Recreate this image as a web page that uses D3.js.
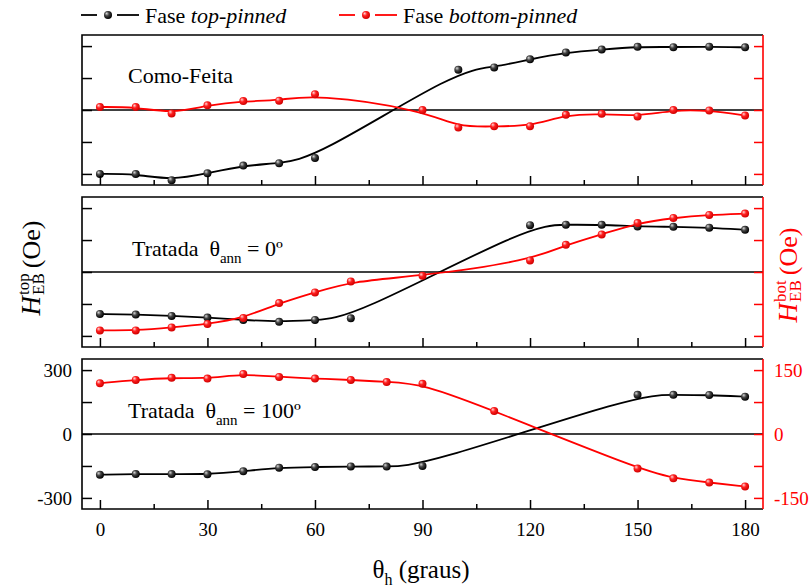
<!DOCTYPE html>
<html><head><meta charset="utf-8">
<script src="https://cdn.jsdelivr.net/npm/d3@7"></script>
<style>
html,body{margin:0;padding:0;background:#fff;}
svg{display:block;}
svg text{white-space:pre;font-family:"Liberation Serif","Times New Roman",serif !important;}
</style></head>
<body><svg id="c" width="811" height="587"></svg>
<script>
// ---- data ----
const angles = [0,10,20,30,40,50,60,70,80,90,100,110,120,130,140,150,160,170,180];
const comoTop  = [-300,-300,-330,-297,-261,-250,-225,null,null,null,189,200,238,270,284,297,295,297,294];
const comoBot  = [7,7,-8,11,21,22,37,null,null,0,-41,-38,-38,-11,-9,-15,0,-1,-13];
const t0Top    = [-197,-200,-206,-214,-225,-234,-225,-217,null,null,null,null,220,222,222,214,212,208,198];
const t0Bot    = [-137,-137,-130,-122,-108,-73,-48,-22,null,-9,null,null,27,64,88,115,127,134,137];
const t100Top  = [-191,-188,-188,-189,-175,-158,-155,-152,-153,-150,null,null,null,null,null,184,184,183,175];
const t100Bot  = [119,127,132,130,141,134,130,127,122,118,null,54,null,null,null,-81,-104,-114,-123];
const panelNames = ["Como-Feita","Tratada  θ|ann| = 0º","Tratada  θ|ann| = 100º"];
const xMajor = [0,30,60,90,120,150,180];
const xMinor = [15,45,75,105,135,165];
const leftTicks = [-300,-150,0,150,300];
const leftLabels = [-300,0,300];
const rightTicks = [-150,-75,0,75,150];
const rightLabels = [-150,0,150];
const legendNames = [["Fase ","top-pinned"],["Fase ","bottom-pinned"]];

const RED = "#ff0000";
const svg = d3.select("#c");
const L = 82, R = 763, H = 150;
const tops = [35,197,359];
const x = d3.scaleLinear().domain([-5,185]).range([L,R]);

const defs = svg.append("defs");
function grad(id, c0, c1, c2){
  const g = defs.append("radialGradient").attr("id",id).attr("cx","40%").attr("cy","40%").attr("r","60%").attr("fx","32%").attr("fy","30%");
  g.append("stop").attr("offset","0%").attr("stop-color",c0);
  g.append("stop").attr("offset","45%").attr("stop-color",c1);
  g.append("stop").attr("offset","100%").attr("stop-color",c2);
}
grad("gk","#d8d8d8","#444","#000");
grad("gr","#ffd8d8","#ff2020","#d00000");

const panels = [
  {top:comoTop, bot:comoBot},
  {top:t0Top, bot:t0Bot},
  {top:t100Top, bot:t100Bot}
];
const fmt = d => String(d);

panels.forEach((p,i)=>{
  const T = tops[i];
  const yL = d3.scaleLinear().domain([-352,352]).range([T+H,T]);
  const yR = d3.scaleLinear().domain([-176,176]).range([T+H,T]);
  const g = svg.append("g");
  g.append("line").attr("x1",L).attr("x2",R).attr("y1",yL(0)).attr("y2",yL(0))
   .attr("stroke","#000").attr("stroke-width",1.4);
  const series = [
    {vals:p.top, y:yL, col:"#000", grad:"gk"},
    {vals:p.bot, y:yR, col:RED, grad:"gr"}
  ];
  series.forEach(s=>{
    const pts = angles.map((a,j)=>[a,s.vals[j]]).filter(d=>d[1]!==null);
    const line = d3.line().x(d=>x(d[0])).y(d=>s.y(d[1])).curve(d3.curveBasis);
    g.append("path").attr("d",line(pts)).attr("fill","none").attr("stroke",s.col).attr("stroke-width",1.8);
    s.pts = pts;
  });
  series.forEach(s=>{
    g.selectAll(null).data(s.pts).enter().append("circle")
     .attr("cx",d=>x(d[0])).attr("cy",d=>s.y(d[1])).attr("r",4)
     .attr("fill","url(#"+s.grad+")");
  });
  const ax = g.append("g").attr("transform",`translate(${L},0)`)
    .call(d3.axisLeft(yL).tickValues(leftTicks).tickSize(-10).tickPadding(10)
      .tickFormat(d=> (i===2 && leftLabels.includes(d)) ? fmt(d) : ""));
  ax.select(".domain").remove();
  ax.selectAll("line").attr("stroke","#000").attr("stroke-width",1.5);
  ax.selectAll("text").attr("font-size",19).attr("fill","#000").attr("dy","0.35em");
  const ar = g.append("g").attr("transform",`translate(${R},0)`)
    .call(d3.axisRight(yR).tickValues(rightTicks).tickSize(-9).tickPadding(11)
      .tickFormat(d=> (i===2 && rightLabels.includes(d)) ? fmt(d) : ""));
  ar.select(".domain").remove();
  ar.selectAll("line").attr("stroke",RED).attr("stroke-width",1.5);
  ar.selectAll("text").attr("font-size",19).attr("fill",RED).attr("dy","0.35em");
  const bx = g.append("g").attr("transform",`translate(0,${T+H})`)
    .call(d3.axisBottom(x).tickValues(xMajor).tickSize(-9).tickPadding(14)
      .tickFormat(d=> i===2 ? String(d) : ""));
  bx.select(".domain").remove();
  bx.selectAll("line").attr("stroke","#000").attr("stroke-width",1.5);
  bx.selectAll("text").attr("font-size",19).attr("fill","#000");
  const bm = g.append("g").attr("transform",`translate(0,${T+H})`)
    .call(d3.axisBottom(x).tickValues(xMinor).tickSize(-5).tickFormat(""));
  bm.select(".domain").remove();
  bm.selectAll("line").attr("stroke","#000").attr("stroke-width",1.5);
  g.append("path").attr("d",`M${R},${T}H${L}V${T+H}H${R}`).attr("fill","none").attr("stroke","#000").attr("stroke-width",1.6);
  g.append("line").attr("x1",R).attr("x2",R).attr("y1",T).attr("y2",T+H).attr("stroke",RED).attr("stroke-width",1.6);
  const parts = panelNames[i].split("|");
  const ann = [[128,83],[132,256],[128,418]][i];
  const t = g.append("text").attr("x",ann[0]).attr("y",ann[1]).attr("font-size",22).attr("fill","#000");
  t.append("tspan").text(parts[0]);
  if(parts.length>1){
    t.append("tspan").attr("font-size",15).attr("dy",7).text(parts[1]);
    t.append("tspan").attr("dy",-7).text(parts[2]);
  }
});

[[81,"#000","gk"],[339,RED,"gr"]].forEach((l,k)=>{
  const g = svg.append("g");
  const x0 = l[0], yy = 15;
  g.append("line").attr("x1",x0).attr("x2",x0+16).attr("y1",yy).attr("y2",yy).attr("stroke",l[1]).attr("stroke-width",1.8);
  g.append("line").attr("x1",x0+36).attr("x2",x0+58).attr("y1",yy).attr("y2",yy).attr("stroke",l[1]).attr("stroke-width",1.8);
  g.append("circle").attr("cx",x0+27).attr("cy",yy).attr("r",4).attr("fill",`url(#${l[2]})`);
  const t = g.append("text").attr("x",x0+64).attr("y",23).attr("font-size",22).attr("fill","#000");
  t.append("tspan").text(legendNames[k][0]);
  t.append("tspan").attr("font-style","italic").text(legendNames[k][1]);
});

function yLabel(cx, cy, sup, col){
  const g = svg.append("g").attr("transform",`translate(${cx},${cy}) rotate(-90)`).attr("fill",col);
  let cur = 0;
  const h = g.append("text").attr("x",cur).attr("y",0).attr("font-size",27).attr("font-style","italic").text("H");
  cur += h.node().getComputedTextLength() + 1;
  const sp = g.append("text").attr("x",cur).attr("y",-11).attr("font-size",17).text(sup);
  const sb = g.append("text").attr("x",cur).attr("y",4).attr("font-size",17).text("EB");
  cur += Math.max(sp.node().getComputedTextLength(), sb.node().getComputedTextLength()) + 5;
  const o = g.append("text").attr("x",cur).attr("y",0).attr("font-size",26).text("(Oe)");
  cur += o.node().getComputedTextLength();
  g.selectAll("text").attr("transform",`translate(${-cur/2},0)`);
}
yLabel(40, 268, "top", "#000");
yLabel(797, 275, "bot", RED);

const xl = svg.append("text").attr("x",421).attr("y",578).attr("text-anchor","middle").attr("font-size",25).attr("fill","#000");
xl.append("tspan").text("θ");
xl.append("tspan").attr("font-size",16).attr("dy",7).text("h");
xl.append("tspan").attr("dy",-7).text(" (graus)");
</script></body></html>
